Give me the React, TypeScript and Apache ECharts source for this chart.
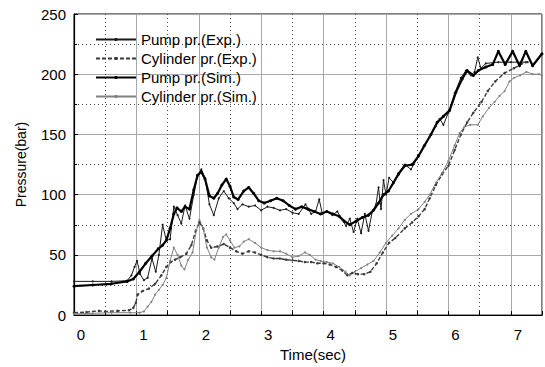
import React, { useEffect, useRef } from "react";
import * as echarts from "echarts";

const seriesNames = ["Pump pr.(Exp.)", "Cylinder pr.(Exp.)", "Pump pr.(Sim.)", "Cylinder pr.(Sim.)"];

const pumpExp: number[][] = [
  [0, 28], [0.3, 28], [0.6, 28], [0.85, 28.5], [0.92, 33], [0.97, 40], [1.01, 45], [1.06, 34], [1.12, 29], [1.18, 31],
  [1.25, 47], [1.31, 36], [1.36, 50], [1.42, 75], [1.48, 62], [1.54, 63], [1.6, 90], [1.66, 83], [1.72, 76], [1.78, 91],
  [1.85, 80], [1.92, 100], [1.98, 116], [2.04, 121], [2.1, 114], [2.17, 92], [2.24, 83], [2.32, 97], [2.4, 103], [2.48, 97],
  [2.56, 93], [2.62, 88], [2.7, 92], [2.8, 90], [2.9, 91], [3.0, 87], [3.1, 90], [3.2, 89], [3.3, 87], [3.4, 88],
  [3.5, 85], [3.6, 84], [3.71, 92], [3.8, 84], [3.87, 86], [3.93, 96], [3.98, 84], [4.05, 86], [4.14, 83], [4.22, 86],
  [4.3, 79], [4.36, 74], [4.42, 80], [4.48, 69], [4.54, 80], [4.6, 68], [4.66, 84], [4.72, 70], [4.78, 86], [4.84, 92],
  [4.88, 106], [4.92, 88], [4.96, 112], [5.0, 100], [5.05, 114], [5.12, 110], [5.2, 118], [5.3, 125], [5.4, 121], [5.5, 130],
  [5.6, 140], [5.7, 148], [5.8, 157], [5.86, 163], [5.92, 158], [6.0, 168], [6.1, 184], [6.2, 197], [6.28, 203], [6.36, 199],
  [6.42, 202], [6.47, 214], [6.52, 205], [6.6, 209], [6.8, 210], [7.0, 210], [7.27, 210],
];

const cylExp: number[][] = [
  [0, 2], [0.2, 2.5], [0.4, 3.5], [0.5, 3], [0.7, 3.5], [0.88, 4], [0.95, 6], [0.99, 10], [1.02, 17], [1.1, 20],
  [1.2, 22], [1.3, 26], [1.4, 33], [1.48, 40], [1.55, 44], [1.62, 46], [1.7, 48], [1.8, 51], [1.88, 58], [1.95, 70],
  [2.01, 77], [2.07, 72], [2.13, 62], [2.2, 56], [2.3, 57], [2.4, 59], [2.5, 56], [2.6, 53], [2.7, 51], [2.8, 53],
  [2.9, 52], [3.0, 50], [3.1, 48], [3.2, 47], [3.3, 47], [3.4, 46], [3.5, 45.5], [3.6, 45], [3.7, 44], [3.8, 44],
  [3.9, 43], [4.0, 43], [4.1, 42], [4.2, 40], [4.3, 37], [4.38, 33], [4.46, 35], [4.55, 34], [4.65, 34], [4.75, 36],
  [4.85, 43], [4.95, 52], [5.05, 60], [5.15, 64], [5.3, 72], [5.42, 77], [5.52, 82], [5.62, 88], [5.7, 97], [5.8, 108],
  [5.9, 117], [6.0, 124], [6.1, 137], [6.2, 150], [6.3, 160], [6.4, 168], [6.53, 177], [6.63, 186], [6.75, 194], [6.9, 201],
  [7.05, 205], [7.24, 210],
];

const pumpSim: number[][] = [
  [0, 24], [0.3, 25], [0.6, 26], [0.85, 28], [0.95, 30], [1.05, 36], [1.15, 43], [1.25, 49], [1.35, 55], [1.42, 58],
  [1.48, 62], [1.54, 72], [1.6, 84], [1.65, 89], [1.72, 86], [1.78, 90], [1.85, 88], [1.92, 104], [1.98, 116], [2.04, 119],
  [2.1, 113], [2.17, 99], [2.24, 97], [2.3, 101], [2.37, 108], [2.44, 113], [2.5, 107], [2.56, 98], [2.63, 96], [2.72, 103],
  [2.8, 106], [2.88, 101], [2.96, 95], [3.05, 93], [3.15, 95], [3.25, 97], [3.35, 95], [3.45, 91], [3.55, 88], [3.65, 90],
  [3.75, 88], [3.85, 86], [3.95, 84], [4.05, 86], [4.15, 84], [4.25, 82], [4.33, 78], [4.42, 75], [4.52, 78], [4.62, 81],
  [4.72, 83], [4.8, 87], [4.88, 93], [4.96, 100], [5.04, 103], [5.12, 110], [5.2, 117], [5.3, 124], [5.42, 125], [5.52, 132],
  [5.62, 141], [5.72, 150], [5.82, 160], [5.92, 165], [6.02, 170], [6.12, 185], [6.22, 196], [6.3, 203], [6.4, 199], [6.48, 203],
  [6.6, 206], [6.71, 208], [6.8, 219], [6.91, 208], [7.03, 219], [7.14, 207], [7.24, 219], [7.35, 207], [7.5, 217],
];

const cylSim: number[][] = [
  [0, 1], [0.3, 1.5], [0.6, 2], [0.9, 2], [1.05, 2], [1.12, 3], [1.18, 7], [1.24, 11], [1.3, 17], [1.36, 21],
  [1.42, 25], [1.48, 31], [1.54, 45], [1.6, 56], [1.66, 50], [1.72, 41], [1.77, 38], [1.83, 46], [1.9, 52], [1.96, 70],
  [2.01, 79], [2.07, 72], [2.13, 56], [2.2, 48], [2.25, 46], [2.32, 56], [2.39, 65], [2.44, 67], [2.5, 62], [2.57, 56],
  [2.65, 57], [2.72, 61], [2.8, 63], [2.9, 60], [3.0, 56], [3.1, 54], [3.2, 53], [3.3, 53], [3.4, 51], [3.5, 48],
  [3.6, 49], [3.7, 52], [3.78, 50], [3.87, 46], [3.95, 45], [4.05, 44], [4.15, 43], [4.25, 40], [4.35, 36], [4.42, 33],
  [4.5, 36], [4.6, 39], [4.7, 42], [4.8, 45], [4.9, 52], [5.0, 60], [5.1, 66], [5.2, 72], [5.3, 79], [5.4, 84],
  [5.52, 88], [5.62, 94], [5.7, 100], [5.8, 110], [5.9, 118], [6.0, 128], [6.1, 141], [6.18, 151], [6.25, 156], [6.35, 158],
  [6.47, 158], [6.55, 165], [6.65, 172], [6.74, 177], [6.82, 182], [6.9, 186], [6.98, 194], [7.05, 197], [7.15, 199], [7.25, 202],
  [7.35, 200], [7.45, 200], [7.5, 199],
];

const FONT = "'Liberation Sans', Arial, Helvetica, sans-serif";

export default function App() {
  const ref = useRef<HTMLDivElement>(null);
  useEffect(() => {
    if (!ref.current) return;
    const chart = echarts.init(ref.current, undefined, { renderer: "svg" });
    const mk = (name: string, data: number[][], color: string, width: number, type: any, symSize: number) => ({
      name,
      type: "line",
      data,
      xAxisIndex: 0,
      symbol: "circle",
      symbolSize: symSize,
      showSymbol: true,
      itemStyle: { color },
      lineStyle: { color, width, type },
      emphasis: { disabled: true },
      z: 3,
    });
    chart.setOption({
      animation: false,
      backgroundColor: "#fff",
      textStyle: { fontFamily: FONT },
      grid: { left: 74, right: 1, top: 14, bottom: 38, show: true, borderColor: "#000", borderWidth: 1 },
      legend: {
        orient: "vertical",
        left: 90,
        top: 27,
        itemWidth: 40,
        itemHeight: 4,
        itemGap: 4,
        textStyle: { fontSize: 15, color: "#000", fontFamily: FONT },
        data: seriesNames,
      },
      xAxis: [
        {
          type: "value",
          min: 0,
          max: 7.5,
          interval: 0.5,
          name: "Time(sec)",
          nameLocation: "middle",
          nameGap: 27,
          nameTextStyle: { fontSize: 15, color: "#000", fontFamily: FONT, fontWeight: "normal", padding: [0, 0, 0, 10] },
          axisLine: { show: true, lineStyle: { color: "#000", width: 1.2 } },
          axisTick: { show: true, inside: true, length: 4, lineStyle: { color: "#000" } },
          axisLabel: {
            interval: 0,
            fontSize: 15,
            color: "#000",
            fontFamily: FONT,
            margin: 12,
            padding: [0, 0, 0, 14],
            formatter: (v: number) => (Number.isInteger(v) ? String(v) : ""),
          },
          splitLine: { show: true, lineStyle: { color: "#444", width: 1, type: [1, 3] } },
        },
        {
          type: "value",
          min: 0,
          max: 7.5,
          interval: 1,
          position: "bottom",
          axisLine: { show: false },
          axisTick: { show: false },
          axisLabel: { show: false },
          splitLine: { show: true, lineStyle: { color: "#a8a8a8", width: 1 } },
        },
      ],
      yAxis: {
        type: "value",
        min: 0,
        max: 250,
        interval: 50,
        name: "Pressure(bar)",
        nameLocation: "middle",
        nameGap: 46,
        nameTextStyle: { fontSize: 14, color: "#000", fontFamily: FONT },
        axisLine: { show: true, lineStyle: { color: "#000", width: 1.2 } },
        axisTick: { show: true, inside: true, length: 4, lineStyle: { color: "#000" } },
        minorTick: { show: true, splitNumber: 2, length: 3, lineStyle: { color: "#000" } },
        axisLabel: { fontSize: 15, color: "#000", fontFamily: FONT, margin: 8 },
        splitLine: { show: true, lineStyle: { color: "#a8a8a8", width: 1 } },
        minorSplitLine: { show: true, lineStyle: { color: "#444", width: 1, type: [1, 3] } },
      },
      series: [
        mk(seriesNames[0], pumpExp, "#1a1a1a", 1, "solid", 2),
        mk(seriesNames[1], cylExp, "#3a3a3a", 1.4, [4, 2], 2.5),
        mk(seriesNames[2], pumpSim, "#000000", 2.2, "solid", 3),
        mk(seriesNames[3], cylSim, "#808080", 1, "solid", 2),
      ],
    });
    return () => chart.dispose();
  }, []);
  return <div ref={ref} style={{ position: "fixed", left: 0, top: 0, width: 545, height: 367 }} />;
}
